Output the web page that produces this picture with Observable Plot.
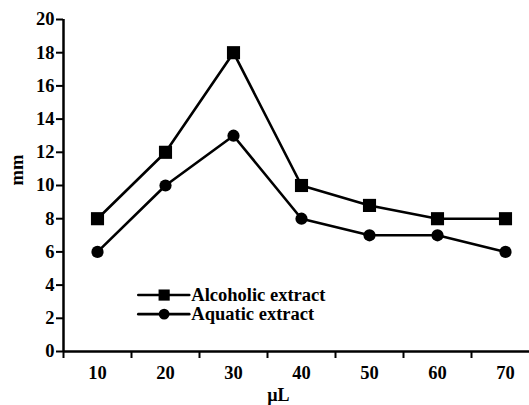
<!DOCTYPE html>
<html>
<head>
<meta charset="utf-8">
<script src="https://cdn.jsdelivr.net/npm/d3@7"></script>
<script src="https://cdn.jsdelivr.net/npm/@observablehq/plot@0.6"></script>
<style>
  html, body { margin: 0; padding: 0; background: #fff; overflow: hidden; }
  #chart svg { display: block; font-family: "Liberation Serif", "DejaVu Serif", serif; }
</style>
</head>
<body>
<div id="chart"></div>
<script>
const volumes = [10, 20, 30, 40, 50, 60, 70];
const alcoholic = [8, 12, 18, 10, 8.8, 8, 8];
const aquatic = [6, 10, 13, 8, 7, 7, 6];
const yTicks = [0, 2, 4, 6, 8, 10, 12, 14, 16, 18, 20];
const xTickMarks = [5, 15, 25, 35, 45, 55, 65, 75];
const seriesNames = ["Alcoholic extract", "Aquatic extract"];

const rowsAlc = volumes.map((v, i) => ({ series: seriesNames[0], x: v, y: alcoholic[i] }));
const rowsAq = volumes.map((v, i) => ({ series: seriesNames[1], x: v, y: aquatic[i] }));
const rows = rowsAlc.concat(rowsAq);

// legend positioned in data space
const legendX = [16.0, 23.5];
const legendMarkX = 19.8;
const legendTextX = 23.8;
const legendY = [3.4, 2.25];
const legendLines = [];
seriesNames.forEach((s, i) => {
  legendLines.push({ series: s, x: legendX[0], y: legendY[i] });
  legendLines.push({ series: s, x: legendX[1], y: legendY[i] });
});
const legendItems = seriesNames.map((s, i) => ({ series: s, x: legendMarkX, tx: legendTextX, y: legendY[i] }));

const chart = Plot.plot({
  width: 529,
  height: 405,
  marginLeft: 63,
  marginTop: 19,
  marginBottom: 54,
  marginRight: 0,
  style: { fontFamily: "Liberation Serif", fontWeight: "bold", fontSize: "18px", color: "#000", background: "#fff" },
  x: { type: "linear", domain: [5, 75], range: [63, 539] },
  y: { domain: [0, 20], range: [351, 19] },
  marks: [
    // axis lines
    Plot.ruleX([5], { y1: 0, y2: 20, stroke: "#000", strokeWidth: 2.5 }),
    Plot.ruleY([0], { x1: 5, x2: 75, stroke: "#000", strokeWidth: 2.5 }),
    Plot.axisY({ ticks: yTicks, tickSize: 7, tickPadding: 2, tickFormat: d => d, label: null, stroke: "#000", strokeWidth: 2, fontSize: 18.5, fontWeight: "bold" }),
    Plot.axisX({ ticks: xTickMarks, tickSize: 7, tickFormat: () => "", label: null, stroke: "#000", strokeWidth: 2 }),
    Plot.axisX({ ticks: volumes, tickSize: 0, tickPadding: 14, tickFormat: d => d, label: null, fontSize: 18.5, fontWeight: "bold" }),
    // axis titles
    Plot.text(["µL"], { x: () => 36.6, y: () => 0, dy: 44, text: d => d, fontSize: 18, fontWeight: "bold", fill: "#000" }),
    Plot.text(["mm"], { frameAnchor: "left", dx: -46, rotate: -90, text: d => d, fontSize: 18.5, fontWeight: "bold", fill: "#000" }),
    // series lines
    Plot.line(rows, { x: "x", y: "y", z: "series", stroke: "#000", strokeWidth: 2.6 }),
    Plot.dot(rowsAlc, { x: "x", y: "y", symbol: "square", r: 7.4, fill: "#000", stroke: "none" }),
    Plot.dot(rowsAq, { x: "x", y: "y", symbol: "circle", r: 6.1, fill: "#000", stroke: "none" }),
    // legend
    Plot.line(legendLines, { x: "x", y: "y", z: "series", stroke: "#000", strokeWidth: 2.6 }),
    Plot.dot(legendItems.slice(0, 1), { x: "x", y: "y", symbol: "square", r: 6.3, fill: "#000", stroke: "none" }),
    Plot.dot(legendItems.slice(1, 2), { x: "x", y: "y", symbol: "circle", r: 5.4, fill: "#000", stroke: "none" }),
    Plot.text(legendItems, { x: "tx", y: "y", text: "series", textAnchor: "start", fontSize: 18.5, fontWeight: "bold", fill: "#000" })
  ]
});
document.getElementById("chart").append(chart);
</script>
</body>
</html>
